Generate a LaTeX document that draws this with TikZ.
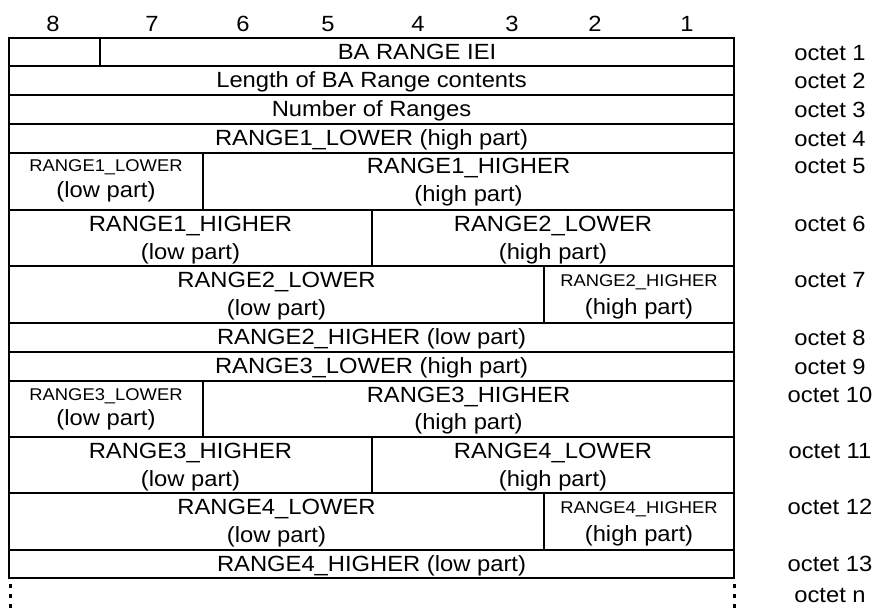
\documentclass[tikz,border=0pt]{standalone}
\usepackage{fontspec}
\setmainfont[FakeStretch=1.08]{Liberation Sans}
\begin{document}
\begin{tikzpicture}[x=1pt,y=-1pt,
  grid/.style={line width=2pt},
  lbl/.style={anchor=base, inner sep=0pt, font=\fontsize{22}{26}\selectfont},
  sm/.style={anchor=base, inner sep=0pt, font=\fontsize{17}{20}\selectfont},
  dots/.style={line width=3pt, dash pattern=on 3.5pt off 6.5pt}]
\useasboundingbox (0,0) rectangle (877,614);
% bit numbers
\foreach \x/\n in {53/8,152/7,243/6,328/5,418/4,512/3,595/2,687/1}
  \node[lbl] (h\n) at (\x,31) {\n};
% table grid
\draw[grid] (9,38) rectangle (734,578);
\foreach \y in {66,95,124,152.5,210,266,323,352,381,437,493,550}
  \draw[grid] (9,\y) -- (734,\y);
\draw[grid] (100,38) -- (100,66);
\draw[grid] (203,152.5) -- (203,210);
\draw[grid] (372,210) -- (372,266);
\draw[grid] (544,266) -- (544,323);
\draw[grid] (203,381) -- (203,437);
\draw[grid] (372,437) -- (372,493);
\draw[grid] (544,493) -- (544,550);
% continuation dots
\draw[dots] (10,584) -- (10,610);
\draw[dots] (734,584) -- (734,610);
% row texts
\node[lbl] (t1) at (417,59) {BA RANGE IEI};
\node[lbl] (t2) at (371.5,87) {Length of BA Range contents};
\node[lbl] (t3) at (371.5,116) {Number of Ranges};
\node[lbl] (t4) at (371.5,145) {RANGE1\_LOWER (high part)};
\node[sm]  (t5a) at (106,171.5) {RANGE1\_LOWER};
\node[lbl] (t5b) at (106,197) {(low part)};
\node[lbl] (t5c) at (468.5,173.5) {RANGE1\_HIGHER};
\node[lbl] (t5d) at (468.5,201) {(high part)};
\node[lbl] (t6a) at (190.5,231.5) {RANGE1\_HIGHER};
\node[lbl] (t6b) at (190.5,259) {(low part)};
\node[lbl] (t6c) at (553,231.5) {RANGE2\_LOWER};
\node[lbl] (t6d) at (553,259) {(high part)};
\node[lbl] (t7a) at (276.5,287.5) {RANGE2\_LOWER};
\node[lbl] (t7b) at (276.5,315) {(low part)};
\node[sm]  (t7c) at (639,286.5) {RANGE2\_HIGHER};
\node[lbl] (t7d) at (639,314) {(high part)};
\node[lbl] (t8) at (371.5,344) {RANGE2\_HIGHER (low part)};
\node[lbl] (t9) at (371.5,373) {RANGE3\_LOWER (high part)};
\node[sm]  (t10a) at (106,400) {RANGE3\_LOWER};
\node[lbl] (t10b) at (106,425.5) {(low part)};
\node[lbl] (t10c) at (468.5,402) {RANGE3\_HIGHER};
\node[lbl] (t10d) at (468.5,429.5) {(high part)};
\node[lbl] (t11a) at (190.5,458.5) {RANGE3\_HIGHER};
\node[lbl] (t11b) at (190.5,486) {(low part)};
\node[lbl] (t11c) at (553,458.5) {RANGE4\_LOWER};
\node[lbl] (t11d) at (553,486) {(high part)};
\node[lbl] (t12a) at (276.5,514.5) {RANGE4\_LOWER};
\node[lbl] (t12b) at (276.5,542) {(low part)};
\node[sm]  (t12c) at (639,513.5) {RANGE4\_HIGHER};
\node[lbl] (t12d) at (639,541) {(high part)};
\node[lbl] (t13) at (371.5,571) {RANGE4\_HIGHER (low part)};
% octet labels
\foreach \y/\n in {60/1,88/2,117/3,146/4,173/5,231.5/6,287.5/7,345/8,374/9,402/10,458.5/11,514.5/12,571/13,602/n}
  \node[lbl] (o\n) at (830,\y) {octet \n};
\end{tikzpicture}
\end{document}
